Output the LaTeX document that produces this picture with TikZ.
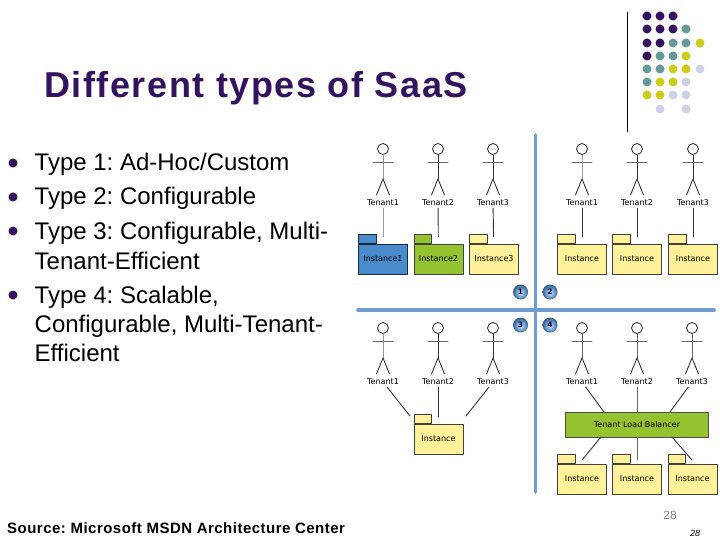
\documentclass[tikz,border=0pt]{standalone}
\usepackage{fontspec}
\setmainfont{Liberation Sans}
\newfontfamily\verd{DejaVu Sans}
\newfontfamily\titlefont[LetterSpace=4.3]{Liberation Sans}
\newfontfamily\sourcefont[LetterSpace=3.2]{Liberation Sans}
\usetikzlibrary{positioning}
\frenchspacing
\definecolor{dkpurple}{HTML}{33125F}
\definecolor{dotteal}{HTML}{669999}
\definecolor{dotyellow}{HTML}{CCCC1A}
\definecolor{dotlav}{HTML}{D0D0E6}
\definecolor{linkblue}{HTML}{6F9BD1}
\definecolor{pkgblue}{HTML}{4A8BCB}
\definecolor{pkggreen}{HTML}{95C22F}
\definecolor{pkgyellow}{HTML}{FFF29B}
\pgfdeclareradialshading{badgeball}{\pgfpoint{0bp}{-3bp}}{%
	color(0bp)=(pkgblue!25); color(12bp)=(pkgblue!70); color(24bp)=(pkgblue!70!black); color(50bp)=(pkgblue!70!black)}
\tikzset{
	dotmark/.style={circle,inner sep=0pt,minimum size=9pt},
	bodytext/.style={anchor=base west,inner sep=0pt,align=left,font=\fontsize{24}{29}\selectfont},
	bullet/.style={circle,fill=dkpurple,inner sep=0pt,minimum size=9pt},
	actorhead/.style={circle,draw=black!85,line width=.8pt,inner sep=0pt,minimum size=11pt},
	actorline/.style={black!80,line width=.9pt},
	actorname/.style={inner sep=0pt,minimum height=10pt,font=\verd\fontsize{8}{9}\selectfont},
	link/.style={black!80,line width=.9pt},
	pkgbody/.style={draw=black!75,line width=.9pt,inner sep=0pt,minimum width=49pt,minimum height=30pt,font=\verd\fontsize{8}{9}\selectfont},
	pkgtab/.style={draw=black!75,line width=.9pt,inner sep=0pt,minimum width=17.5pt,minimum height=8.5pt,anchor=south west},
	blueline/.style={linkblue,line width=3.6pt},
	badge/.style={circle,shading=badgeball,inner sep=0pt,minimum size=15pt,font=\verd\bfseries\fontsize{7.5}{8}\selectfont,text=black!80!blue}
}
\begin{document}
\begin{tikzpicture}[x=1pt,y=-1pt, line join=round, line cap=round, >=stealth]
	\useasboundingbox (0,0) rectangle (720,540);
	%%Title and text
	\node[anchor=base west,inner sep=0pt,text=dkpurple,font=\titlefont\bfseries\fontsize{36}{40}\selectfont] (title) at (44,98) {Different types of SaaS};
	\node[bullet] (b1) at (13,163) {};
	\node[bullet] (b2) at (13,197) {};
	\node[bullet] (b3) at (13,231) {};
	\node[bullet] (b4) at (13,295) {};
	\node[bodytext] (item1) at (34.5,171) {Type 1: Ad-Hoc/Custom};
	\node[bodytext] (item2) at (34.5,205) {Type 2: Configurable};
	\node[bodytext] (item3) at (34.5,269) {Type 3: Configurable, Multi-\\Tenant-Efficient};
	\node[bodytext] (item4) at (34.5,361) {Type 4: Scalable,\\Configurable, Multi-Tenant-\\Efficient};
	\node[anchor=base west,inner sep=0pt,font=\sourcefont\bfseries\fontsize{15}{16}\selectfont] (source) at (7,533) {Source: Microsoft MSDN Architecture Center};
	\node[text=black!50,font=\fontsize{12}{14}\selectfont] (pagea) at (670,515) {28};
	\node[font=\itshape\fontsize{9}{11}\selectfont] (pageb) at (695,533) {28};
	%%Corner dots
	\draw[black] (627,12)--(627,132);
	\foreach \x/\y/\c in {647/16/dkpurple,660/16/dkpurple,673/16/dkpurple,
		647/29/dkpurple,660/29/dkpurple,673/29/dkpurple,686/29/dotteal,
		647/43/dkpurple,660/43/dkpurple,673/43/dotteal,686/43/dotteal,700/43/dotyellow,
		647/56/dkpurple,660/56/dotteal,673/56/dotteal,686/56/dotyellow,
		647/69/dotteal,660/69/dotteal,673/69/dotyellow,686/69/dotyellow,700/69/dotlav,
		647/82/dotteal,660/82/dotyellow,673/82/dotyellow,686/82/dotlav,
		647/95/dotyellow,660/95/dotyellow,673/95/dotlav,686/95/dotlav,
		660/109/dotlav,686/109/dotlav}
		\node[dotmark,fill=\c] (dot\x-\y) at (\x,\y) {};
	%%Cross lines
	\coordinate (vt) at (535.5,135);
	\coordinate (vb) at (535.5,492);
	\coordinate (hl) at (358,310);
	\coordinate (hr) at (714,310);
	\draw[blueline] (vt)--(vb);
	\draw[blueline] (hl)--(hr);
	\node[badge] (q1) at (520.5,292) {1};
	\node[badge] (q2) at (550,292) {2};
	\node[badge] (q3) at (520.5,325) {3};
	\node[badge] (q4) at (550,325) {4};
	%%Actors
	\foreach \n/\x/\y/\k/\c in {a/383/149/1/black!40,b/438/149/2/black!80,c/493/149/3/black!80,
		d/582/149/1/black!40,e/637/149/2/black!80,f/693/149/3/black!80,
		g/383/328/1/black!40,h/438/328/2/black!80,i/493/328/3/black!80,
		j/582/328/1/black!60,k/637/328/2/black!60,l/692/328/3/black!60}{
		\node[actorhead] (head\n) at (\x,\y) {};
		\draw[actorline,\c] (head\n.south)--++(0,24) coordinate (hip\n);
		\draw[black!60,line width=.9pt] (\x-10,\y+13)--(\x+10,\y+13);
		\draw[actorline] (\x-6.5,\y+46)--(hip\n)--(\x+6.5,\y+46);
		\node[actorname] (name\n) at (\x,\y+54) {Tenant\k};
	}
	%%Quadrant 1
	\node[pkgbody,fill=pkgblue,draw=black!70!pkgblue] (box1) at (383,259) {Instance1};
	\node[pkgbody,fill=pkggreen] (box2) at (438.5,259) {Instance2};
	\node[pkgbody,fill=pkgyellow] (box3) at (494,259) {Instance3};
	\node[pkgtab,fill=pkgblue,draw=black!70!pkgblue] (tab1) at (box1.north west) {};
	\node[pkgtab,fill=pkggreen] (tab2) at (box2.north west) {};
	\node[pkgtab,fill=pkgyellow] (tab3) at (box3.north west) {};
	\draw[link,black!40,shorten >=7pt] (namea)--(box1);
	\draw[link,shorten >=7pt] (nameb)--(box2);
	\draw[link,shorten >=7pt] (namec)--(box3);
	%%Quadrant 2
	\foreach \n/\x/\t in {4/582/d,5/637/e,6/693/f}{
		\node[pkgbody,fill=pkgyellow] (box\n) at (\x,259) {Instance};
		\node[pkgtab,fill=pkgyellow] (tab\n) at (box\n.north west) {};
		\coordinate (end\n) at (\x,237);
		\draw[link] (name\t)--(end\n);
	}
	%%Quadrant 3
	\node[pkgbody,fill=pkgyellow] (box7) at (438.5,439) {Instance};
	\node[pkgtab,fill=pkgyellow] (tab7) at (box7.north west) {};
	\coordinate (end7a) at (410,416);
	\coordinate (end7b) at (438,417);
	\coordinate (end7c) at (466,416);
	\draw[link] (nameg)--(end7a);
	\draw[link] (nameh)--(end7b);
	\draw[link] (namei)--(end7c);
	%%Quadrant 4
	\node[draw=black!70,line width=.9pt,fill=pkggreen,inner sep=0pt,minimum width=142.5pt,minimum height=25pt,font=\verd\fontsize{8}{9}\selectfont] (lb) at (637,424.5) {Tenant Load Balancer};
	\foreach \n/\x in {8/582,9/637,10/692.5}{
		\node[pkgbody,fill=pkgyellow] (box\n) at (\x,479) {Instance};
		\node[pkgtab,fill=pkgyellow] (tab\n) at (box\n.north west) {};
	}
	\coordinate (lba) at (604,412);
	\coordinate (lbb) at (670,412);
	\coordinate (lbc) at (601,437);
	\coordinate (lbd) at (672,437);
	\coordinate (enda) at (582,460);
	\coordinate (endb) at (637,460);
	\coordinate (endc) at (692,460);
	\draw[link] (namej)--(lba);
	\draw[link,black!60] (namek)--(lb);
	\draw[link] (namel)--(lbb);
	\draw[link] (lbc)--(enda);
	\draw[link,black!60] (lb)--(endb);
	\draw[link] (lbd)--(endc);
\end{tikzpicture}
\end{document}
